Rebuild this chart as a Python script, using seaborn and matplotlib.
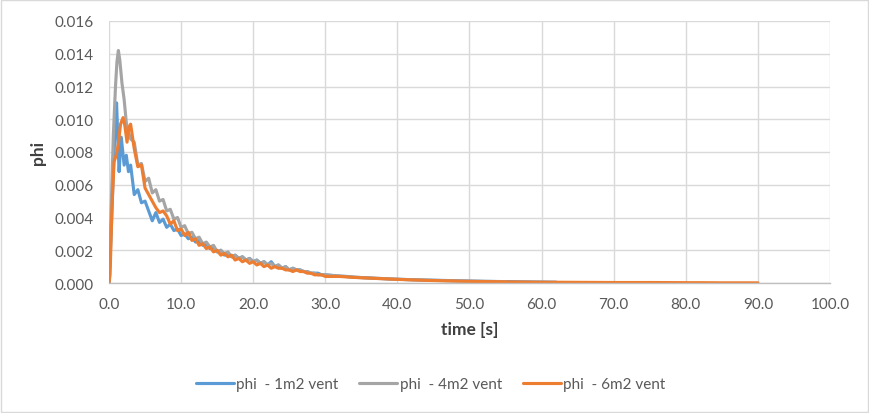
import numpy as np
import pandas as pd
import matplotlib
matplotlib.use("Agg")
import matplotlib.pyplot as plt
import seaborn as sns
from matplotlib.patches import Rectangle
from matplotlib.ticker import FormatStrFormatter

# ---------------- data ----------------
series_names = ["phi  - 1m2 vent", "phi  - 4m2 vent", "phi  - 6m2 vent"]
series_colors = ["#5B9BD5", "#A5A5A5", "#ED7D31"]

t_grid = [3.5, 4.0, 4.5, 5.0, 5.5, 6.0, 6.5, 7.0, 7.5,
          8.0, 8.5, 9.0, 9.5, 10.0, 10.5, 11.0, 11.5, 12.0,
          12.5, 13.0, 13.5, 14.0, 14.5, 15.0, 15.5, 16.0, 16.5,
          17.0, 17.5, 18.0, 18.5, 19.0, 19.5, 20.0, 20.5, 21.0,
          21.5, 22.0, 22.5, 23.0, 23.5, 24.0, 24.5, 25.0, 25.5,
          26.0, 26.5, 27.0, 27.5, 28.0, 28.5, 29.0, 29.5, 30.0]

# 1 m2 vent
t_early_1 = [0, 0.3, 0.6, 0.85, 1.05, 1.25, 1.4, 1.7, 2.1, 2.4, 2.7, 3.0]
phi_early_1 = [0, 0.0030, 0.0068, 0.0095, 0.0110, 0.0085, 0.0068, 0.0089, 0.0072, 0.0078, 0.0068, 0.0072]
phi_grid_1 = [0.0054, 0.0057, 0.0049, 0.0050, 0.0044, 0.0038, 0.0043, 0.0037, 0.0039,
              0.0034, 0.0036, 0.0032, 0.0033, 0.0029, 0.0030, 0.0027, 0.0028, 0.0025,
              0.0026, 0.0023, 0.0024, 0.0021, 0.0022, 0.0019, 0.0020, 0.0017, 0.0018,
              0.0016, 0.0017, 0.0015, 0.0016, 0.0014, 0.0015, 0.0013, 0.0014, 0.0012,
              0.0013, 0.0011, 0.0013, 0.0010, 0.0011, 0.0009, 0.0010, 0.0008, 0.0009,
              0.0008, 0.0008, 0.0007, 0.0007, 0.0006, 0.0006, 0.0006, 0.0005, 0.0005]
t_tail_1 = [31, 32, 33, 34, 35, 36, 37, 38, 39, 40, 42, 44, 46, 48, 50, 52, 54, 56, 58, 60, 62]
phi_tail_1 = [0.00046, 0.00042, 0.00040, 0.00035, 0.00033, 0.00031, 0.00028, 0.00027, 0.00024, 0.00023,
              0.00020, 0.00018, 0.00016, 0.00014, 0.00012, 0.00010, 0.00009, 0.00008, 0.00007, 0.00006, 0.00005]

# 4 m2 vent
t_early_4 = [0, 0.3, 0.6, 0.9, 1.1, 1.3, 1.5, 1.8, 2.1, 2.4, 2.7, 3.0]
phi_early_4 = [0, 0.0045, 0.0090, 0.0120, 0.0135, 0.0142, 0.0136, 0.0122, 0.0112, 0.0098, 0.0092, 0.0088]
phi_grid_4 = [0.0086, 0.0072, 0.0073, 0.0062, 0.0064, 0.0055, 0.0057, 0.0050, 0.0051,
              0.0044, 0.0045, 0.0039, 0.0040, 0.0034, 0.0035, 0.0030, 0.0031, 0.0027,
              0.0028, 0.0024, 0.0025, 0.0022, 0.0023, 0.0019, 0.0020, 0.0018, 0.0019,
              0.0016, 0.0017, 0.0015, 0.0016, 0.0014, 0.0015, 0.0013, 0.0014, 0.0012,
              0.0013, 0.0011, 0.0012, 0.0010, 0.0011, 0.0009, 0.0010, 0.0008, 0.0009,
              0.0008, 0.0008, 0.0007, 0.0007, 0.0006, 0.0006, 0.0005, 0.0005, 0.0005]
t_tail_4 = [32, 34, 36, 38, 40, 42, 44, 46, 48, 50, 52, 55]
phi_tail_4 = [0.00042, 0.00036, 0.00031, 0.00027, 0.00023, 0.00020, 0.00017, 0.00015, 0.00013, 0.00011, 0.00010, 0.00008]

# 6 m2 vent
t_early_6 = [0, 0.15, 0.4, 0.7, 1.0, 1.3, 1.6, 1.95, 2.2, 2.5, 2.75, 3.0]
phi_early_6 = [0, 0.0005, 0.0045, 0.0074, 0.0078, 0.0085, 0.0097, 0.0101, 0.0096, 0.0086, 0.0095, 0.0097]
phi_grid_6 = [0.0082, 0.0071, 0.0072, 0.0058, 0.0054, 0.0050, 0.0046, 0.0043, 0.0044,
              0.0041, 0.0036, 0.0038, 0.0032, 0.0033, 0.0029, 0.0031, 0.0026, 0.0027,
              0.0023, 0.0024, 0.0021, 0.0022, 0.0019, 0.0020, 0.0017, 0.0018, 0.0016,
              0.0017, 0.0014, 0.0015, 0.0013, 0.0014, 0.0012, 0.0013, 0.0011, 0.0012,
              0.0010, 0.0011, 0.0009, 0.0010, 0.0009, 0.0009, 0.0008, 0.0008, 0.0007,
              0.0008, 0.0007, 0.0007, 0.0006, 0.0006, 0.0005, 0.0005, 0.0005, 0.0004]
t_tail_6 = [32, 34, 36, 38, 40, 42, 44, 46, 48, 50, 55, 60, 65, 70, 75, 80, 82, 85, 90]
phi_tail_6 = [0.00040, 0.00034, 0.00030, 0.00026, 0.00022, 0.00019, 0.00016, 0.00014, 0.00012, 0.00010,
              0.00007, 0.00005, 0.00004, 0.00003, 0.00003, 0.00002, 0.00002, 0.00001, 0.00001]

x_ticks = [0, 10, 20, 30, 40, 50, 60, 70, 80, 90, 100]
y_ticks = [0.000, 0.002, 0.004, 0.006, 0.008, 0.010, 0.012, 0.014, 0.016]

# ---------------- build long table ----------------
frames = []
for name, te, pe, pg, tt, pt in [
    (series_names[0], t_early_1, phi_early_1, phi_grid_1, t_tail_1, phi_tail_1),
    (series_names[1], t_early_4, phi_early_4, phi_grid_4, t_tail_4, phi_tail_4),
    (series_names[2], t_early_6, phi_early_6, phi_grid_6, t_tail_6, phi_tail_6),
]:
    frames.append(pd.DataFrame({"time": te + t_grid + tt,
                                "phi": pe + pg + pt,
                                "series": name}))
df = pd.concat(frames, ignore_index=True)

# ---------------- plot ----------------
sns.set_theme(style="white")
plt.rcParams["font.family"] = ["Lato", "DejaVu Sans"]

fig = plt.figure(figsize=(8.69, 4.14), dpi=100)
ax = fig.add_axes([109 / 869, 1 - 284 / 414, (830 - 109) / 869, (284 - 22) / 414])

sns.lineplot(data=df, x="time", y="phi", hue="series", hue_order=series_names,
             palette=series_colors, sort=False, estimator=None, linewidth=2.25,
             ax=ax, legend=False)

ax.set_xlim(x_ticks[0], x_ticks[-1])
ax.set_ylim(y_ticks[0], y_ticks[-1])
ax.set_xticks(x_ticks)
ax.set_yticks(y_ticks)
ax.xaxis.set_major_formatter(FormatStrFormatter("%.1f"))
ax.yaxis.set_major_formatter(FormatStrFormatter("%.3f"))
ax.grid(True, color="#D9D9D9", linewidth=1.0)
ax.set_axisbelow(True)
for s in ["top", "right", "left"]:
    ax.spines[s].set_visible(False)
ax.spines["bottom"].set_color("#BFBFBF")
ax.spines["bottom"].set_linewidth(1.0)
ax.tick_params(axis="x", length=0, labelsize=11, labelcolor="#595959", pad=10)
ax.tick_params(axis="y", length=0, labelsize=11, labelcolor="#595959", pad=11)

ax.set_xlabel("time [s]", fontsize=12.5, fontweight="bold", color="#404040", labelpad=7)
ax.set_ylabel("phi", fontsize=12.5, fontweight="bold", color="#404040", labelpad=6)

handles = ax.get_lines()[:3]
leg = fig.legend(handles, series_names, loc="center", bbox_to_anchor=(0.4955, 0.07),
                 ncol=3, frameon=False, fontsize=11, handlelength=2.5,
                 handletextpad=0.15, columnspacing=1.35)
for txt in leg.get_texts():
    txt.set_color("#595959")

fig.patches.append(Rectangle((0.0015, 0.0025), 0.997, 0.995, transform=fig.transFigure,
                             fill=False, edgecolor="#D9D9D9", linewidth=1.0))

fig.savefig("out.png", dpi=100)
